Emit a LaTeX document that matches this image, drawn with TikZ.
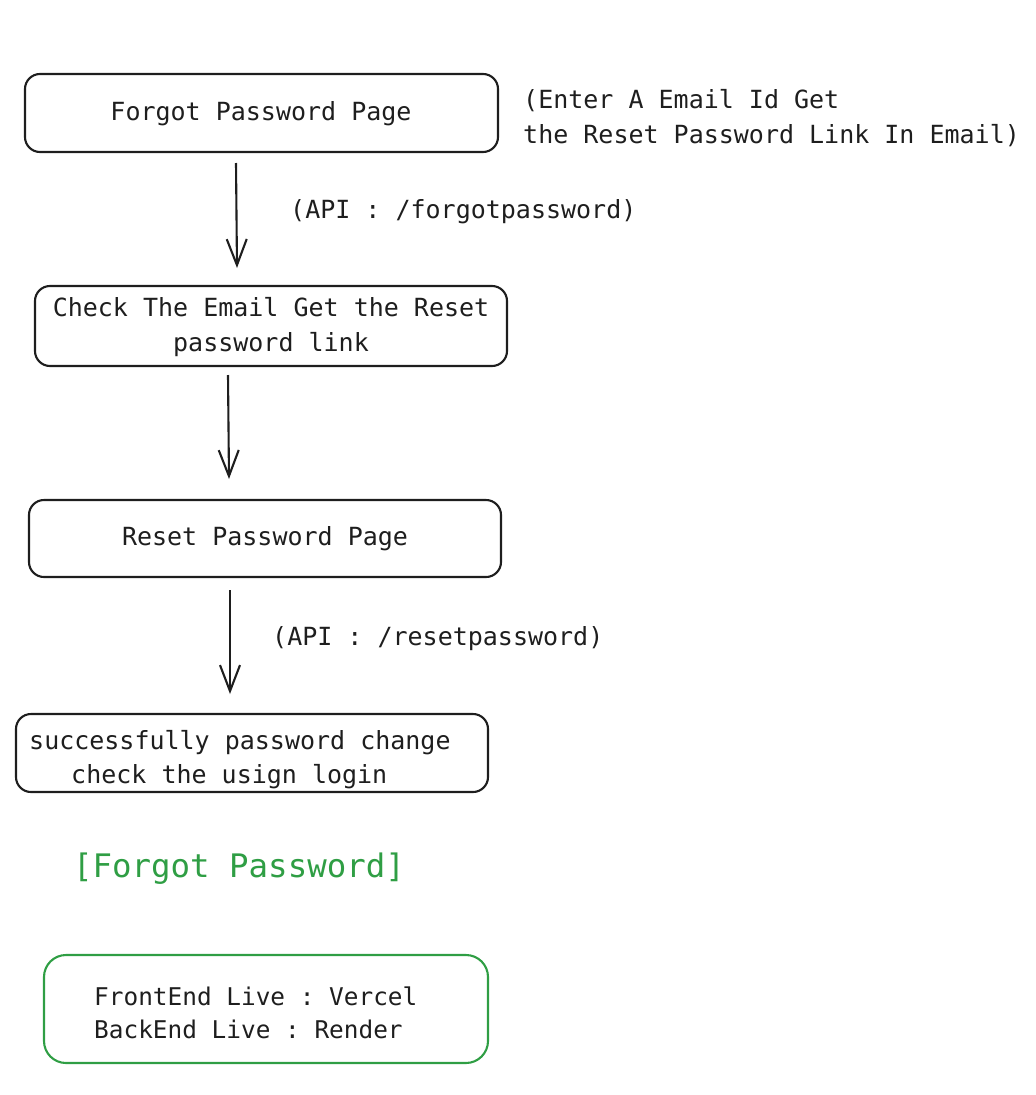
\documentclass[tikz,border=0pt]{standalone}
\usepackage{fontspec}
\setmonofont{DejaVu Sans Mono}
\usetikzlibrary{arrows.meta}
\definecolor{ink}{HTML}{1E1E1E}
\definecolor{grn}{HTML}{2F9E44}
\tikzset{
  flowbox/.style={draw=ink, line width=2.1pt, rounded corners=15pt, inner sep=0pt},
  greenbox/.style={draw=grn, line width=2.1pt, rounded corners=22pt, inner sep=0pt},
  txt/.style={font=\ttfamily\fontsize{25}{35}\selectfont, text=ink, inner sep=0pt},
  gtxt/.style={font=\ttfamily\fontsize{24.4}{33}\selectfont, text=ink, inner sep=0pt},
  flowarrow/.style={draw=ink, line width=2.1pt, -{Straight Barb[length=26pt, width=20pt, line width=2.1pt]}},
}
\begin{document}
\begin{tikzpicture}[x=1pt,y=-1pt]
\useasboundingbox (0,0) rectangle (1036,1095);
\node[flowbox, minimum width=473pt, minimum height=78pt] (b1) at (261.5,113) {};
\node[txt] (t1) at (261,114) {Forgot Password Page};
\node[txt, anchor=west, align=left] (note1) at (523,118) {(Enter A Email Id Get\\the Reset Password Link In Email)};

\coordinate (a1s) at (236,163);
\coordinate (a1e) at (237,268);
\draw[flowarrow] (a1s) -- (a1e);
\node[txt, anchor=west] (api1) at (290,212) {(API : /forgotpassword)};

\node[flowbox, minimum width=472pt, minimum height=80pt] (b2) at (271,326) {};
\node[txt, align=center] (t2) at (271,327) {Check The Email Get the Reset\\password link};

\coordinate (a2s) at (228,375);
\coordinate (a2e) at (229,479);
\draw[flowarrow] (a2s) -- (a2e);

\node[flowbox, minimum width=472pt, minimum height=77pt] (b3) at (265,538.5) {};
\node[txt] (t3) at (265,539) {Reset Password Page};

\coordinate (a3s) at (230,590);
\coordinate (a3e) at (230,694);
\draw[flowarrow] (a3s) -- (a3e);
\node[txt, anchor=west] (api2) at (272,639) {(API : /resetpassword)};

\node[flowbox, minimum width=472pt, minimum height=78pt] (b4) at (252,753) {};
\node[txt, anchor=west] (t4a) at (29,743) {successfully password change};
\node[txt, anchor=west] (t4b) at (71,777) {check the usign login};

\node[font=\ttfamily\fontsize{32.4}{40}\selectfont, text=grn, inner sep=0pt, anchor=west] (title) at (73,869) {[Forgot Password]};

\node[greenbox, minimum width=444pt, minimum height=108pt] (g) at (266,1009) {};
\node[gtxt, anchor=west, align=left] (gt) at (94,1012.5) {FrontEnd Live : Vercel\\BackEnd Live : Render};
\end{tikzpicture}
\end{document}
